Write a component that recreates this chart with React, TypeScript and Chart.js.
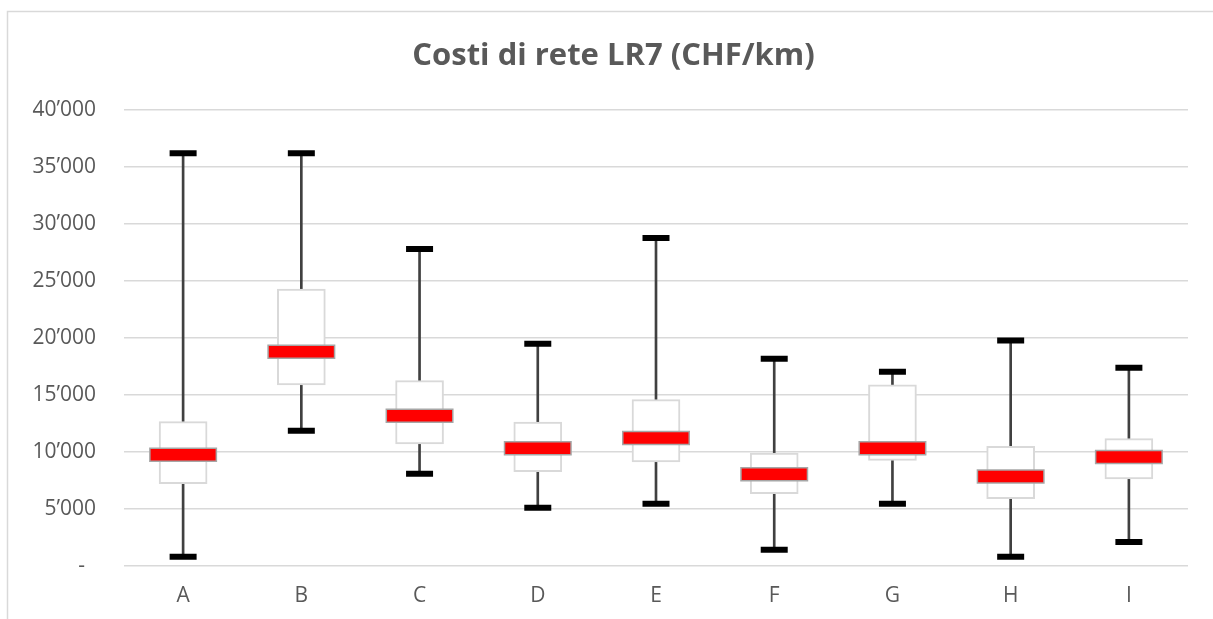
import React, { useEffect, useRef } from "react";
import { Chart, registerables } from "chart.js";

Chart.register(...registerables);

const categories = ["A", "B", "C", "D", "E", "F", "G", "H", "I"];
const whiskerLow = [820, 11870, 8100, 5120, 5470, 1430, 5470, 820, 2100];
const quartile1 = [7220, 15880, 10700, 8270, 9120, 6340, 9270, 5900, 7630];
const medians = [9760, 18800, 13190, 10320, 11230, 8040, 10320, 7840, 9560];
const quartile3 = [12660, 24300, 16260, 12630, 14590, 9910, 15900, 10500, 11170];
const whiskerHigh = [36200, 36200, 27800, 19500, 28770, 18180, 17050, 19770, 17400];

const titleText = "Costi di rete LR7 (CHF/km)";
const yMin = 0;
const yMax = 40000;
const yStep = 5000;

const formatTick = (v: number) =>
  v === 0 ? "-  " : String(v).replace(/\B(?=(\d{3})+(?!\d))/g, "\u2019");

const framePlugin = {
  id: "frame",
  beforeDraw(chart: any) {
    const ctx = chart.ctx;
    ctx.save();
    ctx.strokeStyle = "#d9d9d9";
    ctx.lineWidth = 1.5;
    ctx.beginPath();
    ctx.moveTo(7.5, chart.height + 2);
    ctx.lineTo(7.5, 11.5);
    ctx.lineTo(chart.width + 2, 11.5);
    ctx.stroke();
    ctx.restore();
  },
};

export default function App() {
  const ref = useRef<HTMLCanvasElement | null>(null);

  useEffect(() => {
    document.body.style.margin = "0";
    const canvas = ref.current;
    if (!canvas) return;
    Chart.defaults.font.family = "'Open Sans', 'Noto Sans', sans-serif";
    Chart.defaults.color = "#595959";

    const chart = new Chart(canvas, {
      type: "bar",
      data: {
        labels: categories,
        datasets: [
          {
            type: "line",
            data: medians,
            showLine: false,
            pointStyle: "line",
            pointRadius: 32.5,
            pointBorderWidth: 11.5,
            pointBorderColor: "#ff0000",
            pointBackgroundColor: "#ff0000",
            order: 0,
          } as any,
          {
            type: "line",
            data: medians,
            showLine: false,
            pointStyle: "line",
            pointRadius: 34,
            pointBorderWidth: 14.5,
            pointBorderColor: "#a6a6a6",
            pointBackgroundColor: "#a6a6a6",
            order: 1,
          } as any,
          {
            type: "line",
            data: whiskerHigh,
            showLine: false,
            pointStyle: "line",
            pointRadius: 13.5,
            pointBorderWidth: 6,
            pointBorderColor: "#000000",
            order: 2,
          } as any,
          {
            type: "line",
            data: whiskerLow,
            showLine: false,
            pointStyle: "line",
            pointRadius: 13.5,
            pointBorderWidth: 6,
            pointBorderColor: "#000000",
            order: 2,
          } as any,
          {
            type: "bar",
            data: categories.map((_, i) => [quartile1[i], quartile3[i]]),
            backgroundColor: "#ffffff",
            borderColor: "#d9d9d9",
            borderWidth: 2,
            borderSkipped: false,
            barThickness: 48,
            grouped: false,
            order: 3,
          } as any,
          {
            type: "bar",
            data: categories.map((_, i) => [whiskerLow[i], whiskerHigh[i]]),
            backgroundColor: "#404040",
            borderWidth: 0,
            barThickness: 2,
            grouped: false,
            order: 4,
          } as any,
        ],
      },
      options: {
        animation: false,
        responsive: false,
        maintainAspectRatio: false,
        layout: { autoPadding: false, padding: { left: 15, right: 1, top: 0, bottom: 0 } },
        plugins: {
          legend: { display: false },
          tooltip: { enabled: false },
          title: {
            display: true,
            text: titleText,
            color: "#595959",
            font: { size: 31, weight: "bold" },
            padding: { top: 37.4, bottom: 35.4 },
          },
        },
        scales: {
          x: {
            offset: true,
            grid: { display: false, drawTicks: false },
            border: { display: false },
            ticks: { padding: 17.4, font: { size: 21 }, color: "#595959" },
            afterFit: (s: any) => {
              s.height = 53;
              s.paddingLeft = 0;
              s.paddingRight = 25;
            },
          },
          y: {
            min: yMin,
            max: yMax,
            grid: { color: "#d9d9d9", lineWidth: 1.5, drawTicks: false },
            border: { display: false },
            ticks: {
              stepSize: yStep,
              padding: 28,
              font: { size: 21 },
              color: "#595959",
              callback: (v: any) => formatTick(Number(v)),
            },
            afterFit: (s: any) => {
              s.width = 109;
            },
          },
        },
      },
      plugins: [framePlugin],
    });
    return () => chart.destroy();
  }, []);

  return (
    <canvas
      ref={ref}
      width={1213}
      height={619}
      style={{ display: "block", width: 1213, height: 619 }}
    />
  );
}
